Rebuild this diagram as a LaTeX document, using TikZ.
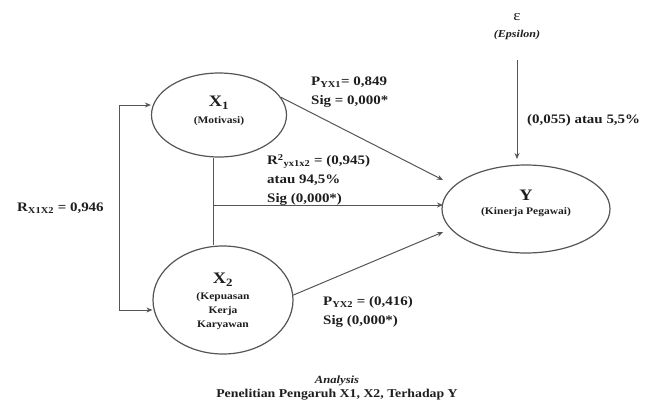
\documentclass[tikz,border=0pt]{standalone}
\usepackage{fontspec}
\setmainfont{Liberation Serif}[FakeStretch=1.15]
\usetikzlibrary{shapes.geometric,arrows.meta}
\definecolor{ln}{HTML}{555555}
\definecolor{tx}{HTML}{1E1E1E}
\tikzset{
 lat/.style={draw=ln, line width=1.2pt, ellipse, inner sep=0pt},
 conn/.style={draw=ln, line width=1pt},
 arr/.style={conn, -{Stealth[length=6pt,width=5pt]}},
 big/.style={font=\fontsize{16}{18}\selectfont\bfseries, text=tx, inner sep=0pt},
 lab/.style={font=\fontsize{13}{19}\selectfont\bfseries, text=tx, inner sep=0pt, align=left, anchor=west},
 sm/.style={font=\fontsize{10}{14}\selectfont\bfseries, text=tx, inner sep=0pt, align=center},
}
\begin{document}
\begin{tikzpicture}[x=1pt,y=-1pt]
\useasboundingbox (0,0) rectangle (670,410);
% latent variables
\node[lat, minimum width=135pt, minimum height=84pt] (X1) at (219,115) {};
\node[lat, minimum width=140pt, minimum height=108pt] (X2) at (223,300) {};
\node[lat, minimum width=168pt, minimum height=88pt] (Y) at (526,209) {};
\node[big] (x1t) at (219,103) {X\textsubscript{1}};
\node[sm] (x1s) at (219,121) {(Motivasi)};
\node[big] (x2t) at (223,280) {X\textsubscript{2}};
\node[sm] (x2s) at (223,311) {(Kepuasan\\Kerja\\Karyawan};
\node[big] (yt) at (526,195) {Y};
\node[sm] (ys) at (526,212) {(Kinerja Pegawai)};
% epsilon
\node[sm, font=\fontsize{15}{16}\selectfont] (epst) at (517,17) {ε};
\node[sm, font=\fontsize{10.5}{13}\selectfont\bfseries\itshape] (epss) at (517,35) {(Epsilon)};
% labels
\node[lab] (p1) at (311,92) {P\textsubscript{YX1}= 0,849\\Sig = 0,000*};
\node[lab] (r2) at (267,180) {R\textsuperscript{2}\textsubscript{yx1x2} = (0,945)\\atau 94,5\%\\Sig (0,000*)};
\node[lab] (p2) at (323,312) {P\textsubscript{YX2} = (0,416)\\Sig (0,000*)};
\node[lab] (ep) at (527,120) {(0,055) atau 5,5\%};
\node[lab] (rx) at (17,208) {R\textsubscript{X1X2} = 0,946};
% caption
\node[sm, font=\fontsize{11}{13}\selectfont\bfseries\itshape] (cap1) at (337,381) {Analysis};
\node[sm, font=\fontsize{12}{14}\selectfont\bfseries] (cap2) at (337,395) {Penelitian Pengaruh X1, X2, Terhadap Y};
% connectors
\coordinate (b1) at (119,105);
\coordinate (b2) at (119,310);
\draw[conn] (b1) -- (b2);
\draw[arr] (b1) -- (b1 -| X1.west);
\draw[arr] (b2) -- (b2 -| X2.west);
\coordinate (jn) at (213,205);
\draw[conn] (jn |- X1.south) -- (jn |- X2.north);
\coordinate (ya) at (443,180);
\coordinate (yb) at (443,205);
\coordinate (yc) at (443,232);
\draw[arr] (jn) -- (yb);
\draw[arr] (X1.16) -- (ya);
\draw[arr] (X2.4) -- (yc);
\coordinate (es) at (517,60);
\coordinate (et) at (517,159);
\draw[arr] (es) -- (et);
\end{tikzpicture}
\end{document}
